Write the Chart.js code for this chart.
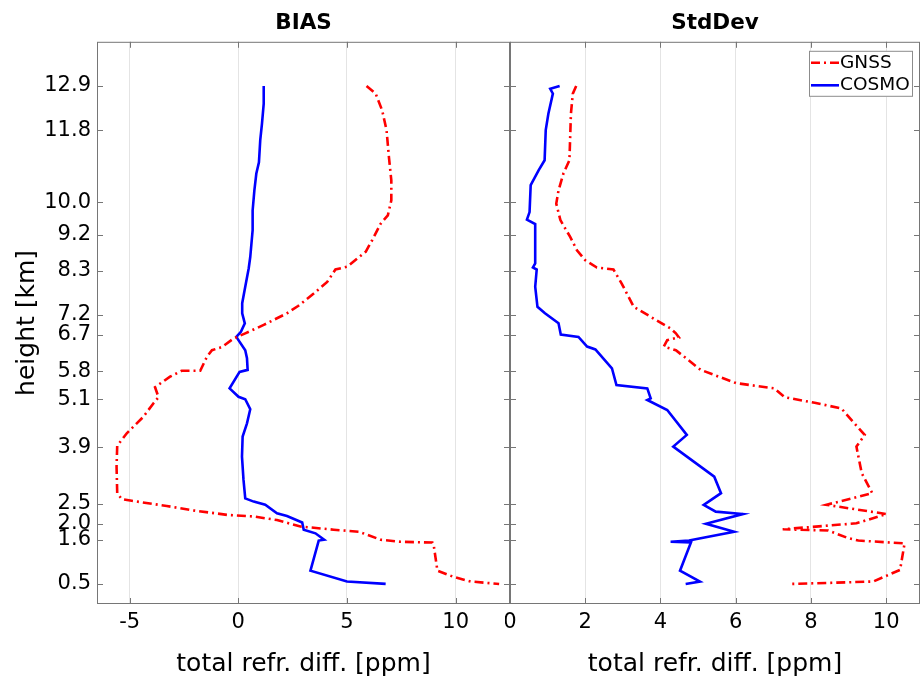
<!DOCTYPE html>
<html>
<head>
<meta charset="utf-8">
<script src="https://cdn.jsdelivr.net/npm/chart.js@4.4.0/dist/chart.umd.min.js"></script>
<style>
  html, body { margin: 0; padding: 0; background: #fff; }
  #wrap { position: relative; width: 923px; height: 682px; }
  canvas { position: absolute; top: 0; }
  #bias { left: 0; }
  #std { left: 505px; }
</style>
</head>
<body>
<div id="wrap">
  <canvas id="bias" width="512" height="682"></canvas>
  <canvas id="std" width="418" height="682"></canvas>
</div>
<script>
// Profiles of refractivity difference vs height

const FONT = '"DejaVu Sans", sans-serif';

// axis ticks
const heightTicks = [0.5, 1.6, 2.0, 2.5, 3.9, 5.1, 5.8, 6.7, 7.2, 8.3, 9.2, 10.0, 11.8, 12.9];
const biasTicks = [-5, 0, 5, 10];
const stdTicks = [0, 2, 4, 6, 8, 10];

// BIAS - GNSS
const biasGnssH = [12.9, 12.71, 12.29, 11.8, 11.13, 10.55, 10.05, 9.68, 9.47, 9.06, 8.77, 8.4, 8.33, 8.02, 7.73,
  7.42, 7.24, 6.95, 6.74, 6.61, 6.4, 6.32, 6.16, 5.81, 5.81, 5.66, 5.4, 5.15, 5.0, 4.66, 4.25, 3.94, 3.42, 2.76, 2.61,
  2.57, 2.44, 2.33, 2.22, 2.18, 2.09, 1.93, 1.85, 1.8, 1.6, 1.55, 1.53, 1.43, 0.83, 0.67, 0.56, 0.5];
const biasGnssV = [5.9, 6.32, 6.62, 6.82, 6.93, 7.04, 7.04, 6.88, 6.55, 6.16, 5.86, 5.01, 4.47, 4.09, 3.47,
  2.75, 2.24, 1.17, 0.32, -0.22, -0.75, -1.21, -1.44, -1.75, -2.6, -3.14, -3.83, -3.67, -3.9, -4.37, -5.13, -5.57, -5.6, -5.57, -5.36,
  -4.9, -3.29, -2.06, -0.52, 0.71, 1.78, 2.86, 4.39, 5.55, 6.55, 7.47, 8.93, 9.0, 9.16, 9.93, 10.7, 12.0];

// BIAS - COSMO
const biasCosmoH = [12.9, 12.46, 11.96, 11.55, 11.0, 10.72, 10.3, 9.8, 9.31, 8.64, 8.36, 7.9, 7.49, 7.24, 6.99,
  6.78, 6.65, 6.32, 6.12, 5.83, 5.78, 5.37, 5.16, 5.1, 4.85, 4.5, 4.17, 3.67, 3.09, 2.63, 2.55, 2.47, 2.26, 2.19, 2.03,
  1.85, 1.76, 1.6, 1.58, 0.83, 0.56, 0.5];
const biasCosmoV = [1.17, 1.17, 1.09, 1.01, 0.95, 0.83, 0.74, 0.66, 0.66, 0.55, 0.48, 0.32, 0.18, 0.18, 0.3,
  0.12, -0.09, 0.32, 0.40, 0.43, 0.06, -0.40, 0.01, 0.32, 0.55, 0.40, 0.2, 0.17, 0.24, 0.32, 0.71, 1.24, 1.78, 2.24, 2.94,
  3.01, 3.55, 3.95, 3.7, 3.32, 5.0, 6.78];

// StdDev - GNSS
const stdGnssH = [12.9, 12.71, 12.21, 11.05, 10.72, 10.3, 9.97, 9.56, 9.14, 8.81, 8.56, 8.38, 8.33, 7.98, 7.4,
  6.86, 6.74, 6.64, 6.57, 6.41, 6.32, 5.83, 5.5, 5.37, 5.15, 5.01, 4.87, 4.21, 3.92, 3.26, 2.76, 2.47, 2.24, 2.01, 1.86,
  1.83, 1.64, 1.58, 1.51, 0.85, 0.56, 0.53, 0.5];
const stdGnssV = [1.76, 1.67, 1.62, 1.58, 1.42, 1.29, 1.23, 1.34, 1.60, 1.78, 2.0, 2.31, 2.75, 2.97, 3.29,
  4.27, 4.41, 4.49, 4.18, 4.09, 4.41, 5.07, 6.01, 7.03, 7.30, 8.10, 8.81, 9.43, 9.21, 9.35, 9.63, 8.41, 10.01, 9.21, 7.25,
  8.46, 8.99, 9.26, 10.49, 10.37, 9.66, 8.63, 7.48];

// StdDev - COSMO
const stdCosmoH = [12.9, 12.83, 12.71, 12.21, 11.8, 11.05, 10.8, 10.43, 9.76, 9.57, 9.46, 8.48, 8.38, 8.33, 7.9,
  7.4, 7.24, 6.99, 6.71, 6.65, 6.41, 6.34, 5.87, 5.45, 5.37, 5.12, 5.08, 4.83, 4.21, 3.92, 3.17, 2.76, 2.47, 2.3, 2.24,
  2.0, 1.8, 1.58, 1.55, 1.53, 0.83, 0.56, 0.5];
const stdCosmoV = [1.32, 1.07, 1.14, 1.02, 0.95, 0.92, 0.76, 0.55, 0.52, 0.45, 0.67, 0.67, 0.61, 0.71, 0.67,
  0.73, 0.93, 1.29, 1.35, 1.82, 2.05, 2.27, 2.71, 2.83, 3.65, 3.74, 3.65, 4.18, 4.70, 4.34, 5.43, 5.61, 5.15, 5.47, 6.19,
  5.21, 5.96, 4.76, 4.27, 4.81, 4.52, 5.05, 4.67];

const pairs = (xs, ys) => xs.map((v, i) => ({ x: v, y: ys[i] }));

const gnssStyle = { label: 'GNSS', borderColor: '#ff0000', borderWidth: 2.6, borderDash: [9, 4, 2, 4] };
const cosmoStyle = { label: 'COSMO', borderColor: '#0000ff', borderWidth: 2.6 };

// box around the axes + inward tick marks (matlab look)
const frame = {
  id: 'frame',
  afterDraw(chart) {
    const { ctx, chartArea: a, scales } = chart;
    ctx.save();
    ctx.strokeStyle = '#767676';
    ctx.lineWidth = 1;
    ctx.strokeRect(a.left + 0.5, a.top + 0.5, a.right - a.left - 1, a.bottom - a.top - 1);
    ctx.beginPath();
    scales.y.ticks.forEach(t => {
      const py = Math.round(scales.y.getPixelForValue(t.value)) + 0.5;
      ctx.moveTo(a.left, py); ctx.lineTo(a.left + 6, py);
      ctx.moveTo(a.right, py); ctx.lineTo(a.right - 6, py);
    });
    scales.x.ticks.forEach(t => {
      const px = Math.round(scales.x.getPixelForValue(t.value)) + 0.5;
      ctx.moveTo(px, a.top); ctx.lineTo(px, a.top + 6);
      ctx.moveTo(px, a.bottom); ctx.lineTo(px, a.bottom - 6);
    });
    ctx.stroke();
    ctx.restore();
  }
};

// boxed legend in the upper right corner
const legendBox = {
  id: 'legendBox',
  afterDraw(chart) {
    const { ctx, chartArea: a } = chart;
    const w = 104, h = 46;
    const x = a.right - 7 - w, y = a.top + 9;
    ctx.save();
    ctx.fillStyle = '#fff';
    ctx.fillRect(x, y, w, h);
    ctx.strokeStyle = '#8c8c8c';
    ctx.lineWidth = 1;
    ctx.strokeRect(x + 0.5, y + 0.5, w - 1, h - 1);
    chart.data.datasets.forEach((ds, i) => {
      const ly = y + 12 + i * 22.5;
      ctx.strokeStyle = ds.borderColor;
      ctx.lineWidth = ds.borderWidth;
      ctx.setLineDash(ds.borderDash || []);
      ctx.beginPath();
      ctx.moveTo(x + 2, ly);
      ctx.lineTo(x + 30, ly);
      ctx.stroke();
      ctx.setLineDash([]);
      ctx.fillStyle = '#000';
      ctx.font = '18.5px ' + FONT;
      ctx.textBaseline = 'middle';
      ctx.fillText(ds.label, x + 31, ly);
    });
    ctx.restore();
  }
};

function yAxis(showLabels) {
  return {
    type: 'linear', min: 0, max: 14,
    afterBuildTicks: s => { s.ticks = heightTicks.map(v => ({ value: v })); },
    afterFit: s => { s.width = showLabels ? 97 : 0; s.paddingTop = 0; s.paddingBottom = 0; },
    grid: { display: false, drawTicks: false },
    border: { display: false },
    ticks: {
      display: showLabels, autoSkip: false, padding: 6, color: '#000',
      font: { size: 21, family: FONT }, callback: v => v.toFixed(1)
    },
    title: {
      display: showLabels, text: 'height [km]', color: '#000',
      font: { size: 25, family: FONT }, padding: { top: 12, bottom: 0 }
    }
  };
}

function xAxis(min, max, ticks) {
  return {
    type: 'linear', min: min, max: max,
    afterBuildTicks: s => { s.ticks = ticks.map(v => ({ value: v })); },
    afterFit: s => { s.height = 78; s.paddingLeft = 0; s.paddingRight = 0; },
    grid: { color: '#e4e4e4', lineWidth: 1, drawTicks: false },
    border: { display: false },
    ticks: { autoSkip: false, maxRotation: 0, padding: 6, color: '#000', font: { size: 21, family: FONT } },
    title: {
      display: true, text: 'total refr. diff. [ppm]', color: '#000',
      font: { size: 25, family: FONT }, padding: { top: 0, bottom: 3 }
    }
  };
}

function panel(canvasId, title, datasets, xScale, showY, pad, extraPlugins) {
  return new Chart(document.getElementById(canvasId), {
    type: 'scatter',
    data: {
      datasets: datasets.map(d => Object.assign({ showLine: true, pointRadius: 0, fill: false, tension: 0 }, d))
    },
    options: {
      responsive: false,
      animation: false,
      layout: { padding: pad },
      scales: { x: xScale, y: yAxis(showY) },
      plugins: {
        legend: { display: false },
        tooltip: { enabled: false },
        title: {
          display: true, text: title, color: '#000', fullSize: false,
          font: { size: 21.5, weight: 'bold', family: FONT }, padding: { top: 11, bottom: 5 }
        }
      }
    },
    plugins: [frame].concat(extraPlugins)
  });
}

panel('bias', 'BIAS', [
  Object.assign({ data: pairs(biasGnssV, biasGnssH) }, gnssStyle),
  Object.assign({ data: pairs(biasCosmoV, biasCosmoH) }, cosmoStyle)
], xAxis(-6.5, 12.5, biasTicks), true, { left: 0, right: 2, top: 0, bottom: 0 }, []);

panel('std', 'StdDev', [
  Object.assign({ data: pairs(stdGnssV, stdGnssH) }, gnssStyle),
  Object.assign({ data: pairs(stdCosmoV, stdCosmoH) }, cosmoStyle)
], xAxis(0, 10.9, stdTicks), false, { left: 5, right: 3, top: 0, bottom: 0 }, [legendBox]);
</script>
</body>
</html>
